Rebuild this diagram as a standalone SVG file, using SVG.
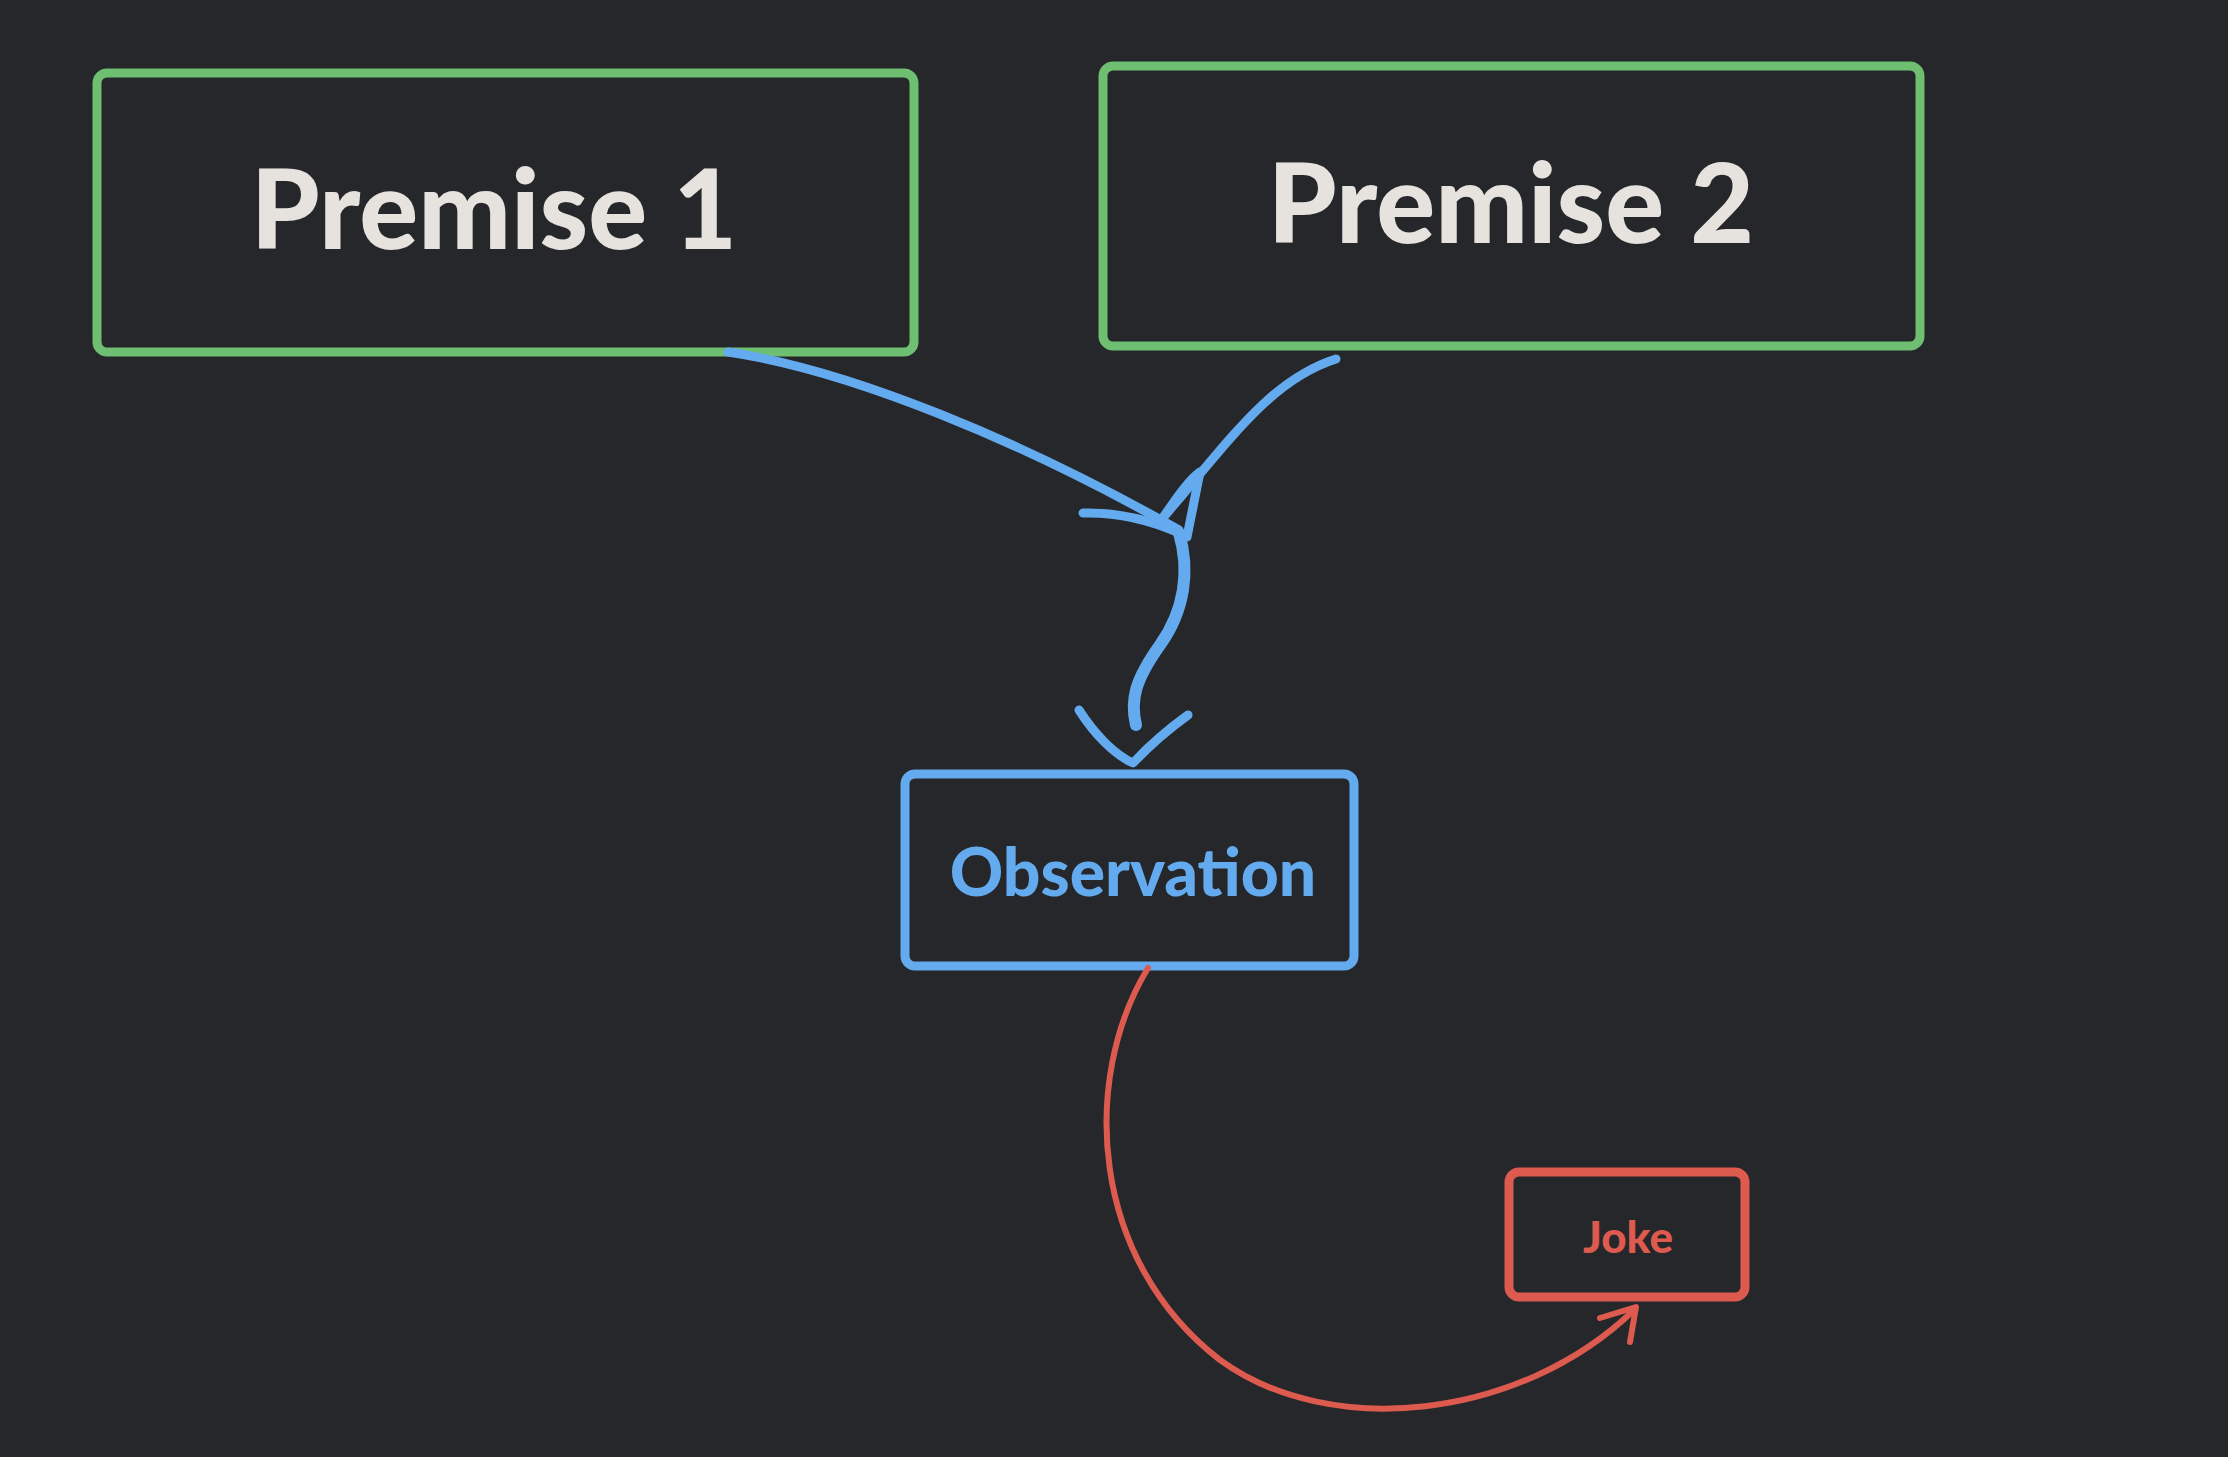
<svg xmlns="http://www.w3.org/2000/svg" width="2228" height="1457" viewBox="0 0 2228 1457">
<style>
.box{fill:none;stroke-width:9;stroke-linejoin:round}
.g{stroke:#6fbf73}.b{stroke:#64aaee}.r{stroke:#dd5a4f}
.ln{fill:none;stroke-linecap:round;stroke-linejoin:round}
text{font-family:"Comic Sans MS","Lato","Noto Sans",sans-serif;font-weight:900;text-anchor:middle;dominant-baseline:central}
</style>
<rect width="2228" height="1457" fill="#25272a"/>
<g id="premise1"><rect class="box g" x="97" y="73" width="817" height="279" rx="10"/><text x="494" y="206" font-size="110" fill="#e6e2dd">Premise 1</text></g>
<g id="premise2"><rect class="box g" x="1103" y="66" width="817" height="280" rx="10"/><text x="1511" y="200" font-size="110" fill="#e6e2dd">Premise 2</text></g>
<g id="observation"><rect class="box b" x="905" y="774" width="449" height="192" rx="10"/><text x="1133" y="870" font-size="66" fill="#64aaee">Observation</text></g>
<g id="joke"><rect class="box r" x="1509" y="1172" width="236" height="125" rx="10"/><text x="1628" y="1236" font-size="44" fill="#dd5a4f">Joke</text></g>
<g id="connectors">
<path class="ln b" stroke="#64aaee" stroke-width="9" d="M728 352 C850 370 1020 440 1179 530"/>
<path class="ln b" stroke="#64aaee" stroke-width="9" d="M1083 513 C1120 512 1150 520 1179 533 M1200 472 L1187 537"/>
<path class="ln b" stroke="#64aaee" stroke-width="9" d="M1336 359 C1270 380 1230 440 1162 519 M1162 519 C1175 500 1190 478 1200 472"/>
<path class="ln b" stroke="#64aaee" stroke-width="12" d="M1179 533 C1190 570 1185 610 1160 645 C1135 680 1130 700 1136 725"/>
<path class="ln b" stroke="#64aaee" stroke-width="9" d="M1079 710 C1095 735 1115 755 1133 763 C1150 745 1170 728 1188 715"/>
<path class="ln r" stroke="#dd5a4f" stroke-width="6" d="M1148 968 C1080 1080 1090 1260 1220 1360 C1330 1440 1520 1420 1634 1310"/>
<path class="ln r" stroke="#dd5a4f" stroke-width="6" d="M1600 1318 L1636 1307 L1630 1342"/>
</g>
</svg>
